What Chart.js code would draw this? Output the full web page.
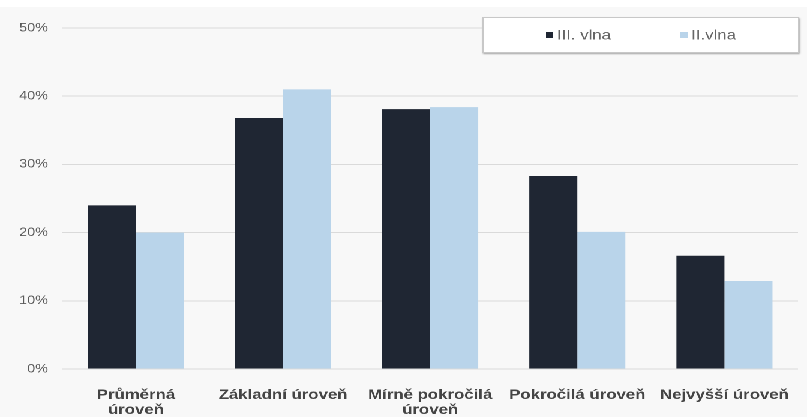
<!DOCTYPE html>
<html>
<head>
<meta charset="utf-8">
<script src="https://cdn.jsdelivr.net/npm/chart.js@4.4.0/dist/chart.umd.min.js"></script>
<style>
html, body { margin: 0; padding: 0; background: #fff; overflow: hidden; }
#wrap { position: absolute; left: 0; top: 7px; width: 673px; height: 410px; background: #f8f8f8;
        transform: scaleX(1.2); transform-origin: 0 0; }
</style>
</head>
<body>
<div id="wrap"><canvas id="chartCanvas" width="673" height="410"></canvas></div>
<script>
"use strict";

const categories = [
    ['Průměrná', 'úroveň'],
    'Základní úroveň',
    ['Mírně pokročilá', 'úroveň'],
    'Pokročilá úroveň',
    'Nejvyšší úroveň'
];
const seriesNames = ['III. vlna', 'II.vlna'];
const wave3 = [24.0, 36.8, 38.1, 28.3, 16.6];
const wave2 = [20.0, 41.0, 38.4, 20.1, 12.9];
const yTicks = [0, 10, 20, 30, 40, 50];

const FONT = '"Liberation Sans", Arial, sans-serif';

// boxed legend sitting over the top right of the plot
const boxLegend = {
    id: 'boxLegend',
    afterDraw(chart) {
        const ctx = chart.ctx;
        const x0 = 402, y0 = 10, w = 264, h = 36;
        ctx.save();
        ctx.shadowColor = 'rgba(0,0,0,0.35)';
        ctx.shadowBlur = 3;
        ctx.shadowOffsetX = 1;
        ctx.shadowOffsetY = 2;
        ctx.fillStyle = '#ffffff';
        ctx.fillRect(x0, y0, w, h);
        ctx.restore();
        ctx.save();
        ctx.strokeStyle = '#c8c8c8';
        ctx.lineWidth = 1;
        ctx.strokeRect(x0 + 0.5, y0 + 0.5, w - 1, h - 1);
        const itemX = [455, 567];
        ctx.font = '14px ' + FONT;
        ctx.textBaseline = 'middle';
        chart.data.datasets.forEach((ds, i) => {
            ctx.fillStyle = ds.backgroundColor;
            ctx.fillRect(itemX[i], y0 + 15, 6, 6);
            ctx.fillStyle = '#666666';
            ctx.fillText(ds.label, itemX[i] + 9, y0 + 18.5);
        });
        ctx.restore();
    }
};

const ctx = document.getElementById('chartCanvas').getContext('2d');
const chart = new Chart(ctx, {
    type: 'bar',
    data: {
        labels: categories,
        datasets: [{
            label: seriesNames[0],
            data: wave3,
            backgroundColor: '#1f2633'
        }, {
            label: seriesNames[1],
            data: wave2,
            backgroundColor: '#b9d4ea'
        }]
    },
    options: {
        responsive: false,
        animation: false,
        devicePixelRatio: 2,
        categoryPercentage: 0.653,
        barPercentage: 1,
        layout: { padding: { top: 21, right: 8, left: 0, bottom: 0 } },
        plugins: {
            legend: { display: false },
            tooltip: { enabled: false }
        },
        scales: {
            x: {
                grid: { display: false },
                border: { display: false },
                ticks: {
                    color: '#444444',
                    font: { family: FONT, size: 14, weight: 'bold', lineHeight: 1.05 },
                    padding: 11,
                    maxRotation: 0,
                    autoSkip: false
                },
                afterFit(scale) { scale.height = 48; }
            },
            y: {
                min: 0,
                max: 50,
                afterBuildTicks(scale) { scale.ticks = yTicks.map(v => ({ value: v })); },
                grid: { color: '#dadada', drawTicks: false },
                border: { display: false },
                ticks: {
                    color: '#5a5a5a',
                    font: { family: FONT, size: 12 },
                    padding: 12,
                    callback: v => v + '%'
                },
                afterFit(scale) { scale.width = 52; }
            }
        }
    },
    plugins: [boxLegend]
});
</script>
</body>
</html>
